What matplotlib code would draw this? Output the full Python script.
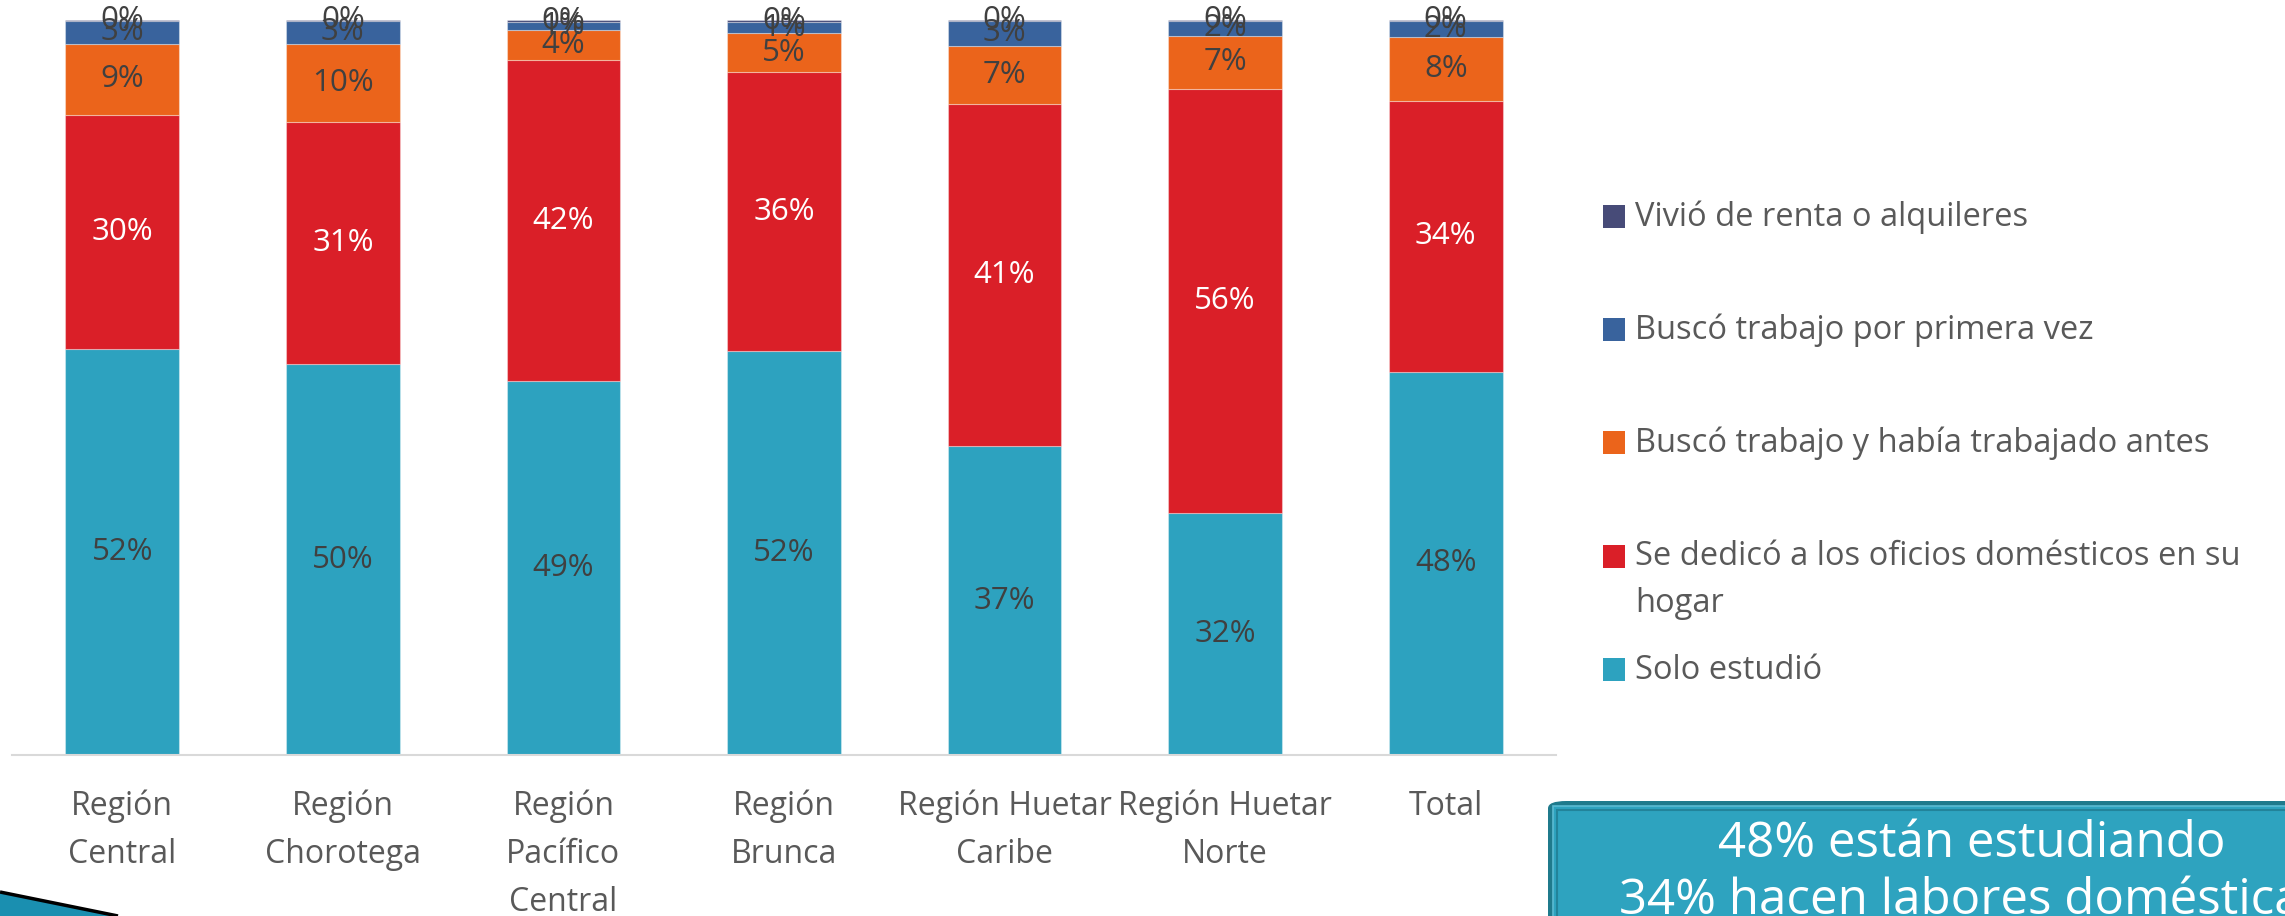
import matplotlib
matplotlib.use("Agg")
import matplotlib.pyplot as plt
from matplotlib.patches import Rectangle, FancyBboxPatch, Polygon
import numpy as np

# ---------------- data ----------------
categories = ['Región\nCentral', 'Región\nChorotega', 'Región\nPacífico\nCentral',
              'Región\nBrunca', 'Región Huetar\nCaribe', 'Región Huetar\nNorte', 'Total']
solo_estudio = [52, 50, 49, 52, 37, 32, 48]
oficios_domesticos = [30, 31, 42, 36, 41, 56, 34]
busco_trabajo_antes = [9, 10, 4, 5, 7, 7, 8]
busco_primera_vez = [3, 3, 1, 1.4, 3, 2, 2]
vivio_renta = [0.1, 0.1, 0.3, 0.3, 0.1, 0.1, 0.1]

series_names = ['Solo estudió',
                'Se dedicó a los oficios domésticos en su\nhogar',
                'Buscó trabajo y había trabajado antes',
                'Buscó trabajo por primera vez',
                'Vivió de renta o alquileres']
series_values = [solo_estudio, oficios_domesticos, busco_trabajo_antes,
                 busco_primera_vez, vivio_renta]
series_colors = ['#2DA2BF', '#DA1F28', '#EB641B', '#39639D', '#474B78']
label_colors = ['#404040', '#FFFFFF', '#404040', '#404040', '#404040']

summary_lines = ['48% están estudiando', '34% hacen labores domésticas']

# ---------------- figure ----------------
W, H = 2285, 916
plt.rcParams['font.family'] = ['Open Sans', 'DejaVu Sans']
fig = plt.figure(figsize=(W / 100, H / 100), dpi=100)
fig.patch.set_facecolor('white')

def fx(px):
    return px / W

def fy(py):
    return 1 - py / H

ax = fig.add_axes([fx(12), fy(755), fx(1556) - fx(12), fy(20) - fy(755)])

vals = np.array(series_values, dtype=float)
totals = vals.sum(axis=0)
pct = vals / totals * 100
x = np.arange(len(categories))
bottom = np.zeros(len(categories))
for i in range(len(series_names)):
    bars = ax.bar(x, pct[i], width=0.515, bottom=bottom, color=series_colors[i],
                  edgecolor=(1, 1, 1, 0.35), linewidth=0.8, zorder=2)
    ax.bar_label(bars, labels=[f'{v:.0f}%' for v in series_values[i]],
                 label_type='center', color=label_colors[i], fontsize=22.5)
    bottom += pct[i]

ax.set_xlim(-0.5, len(categories) - 0.5)
ax.set_ylim(0, 100)
ax.set_xticks(x)
ax.set_xticklabels(categories, fontsize=23, color='#595959', linespacing=1.6)
ax.tick_params(axis='x', length=0, pad=25)
ax.set_yticks([])
for s in ['left', 'right', 'top']:
    ax.spines[s].set_visible(False)
ax.spines['bottom'].set_color('#D9D9D9')
ax.spines['bottom'].set_linewidth(1.5)

# ---------------- legend (manual, reversed order) ----------------
legend_y_bottom = [228, 341, 454, 568, 681]  # square bottoms in px
legend_line_px = 46
order = list(range(len(series_names)))[::-1]
for slot, i in enumerate(order):
    yb = legend_y_bottom[slot]
    fig.patches.append(Rectangle((fx(1603), fy(yb)), fx(22), 23 / H,
                                 transform=fig.transFigure, facecolor=series_colors[i],
                                 edgecolor='none'))
    nlines = series_names[i].count('\n') + 1
    fig.text(fx(1635), fy(yb - 2 + (nlines - 1) * legend_line_px), series_names[i],
             fontsize=23.5, color='#595959', va='baseline', ha='left', linespacing=1.55)

# ---------------- summary box ----------------
outer = FancyBboxPatch((fx(1548), fy(960)), fx(2460) - fx(1548), fy(801) - fy(960),
                       boxstyle='round,pad=0,rounding_size=0.008',
                       transform=fig.transFigure, facecolor='#1F7A8C', edgecolor='none')
fig.patches.append(outer)
fig.patches.append(Rectangle((fx(1553), fy(960)), fx(2455) - fx(1553), fy(806) - fy(960),
                             transform=fig.transFigure, facecolor='#2EA3BF',
                             edgecolor='#5BBAD2', linewidth=1.2))
fig.patches.append(Rectangle((fx(1557), fy(960)), fx(2450) - fx(1557), fy(810) - fy(960),
                             transform=fig.transFigure, facecolor='#2EA3BF',
                             edgecolor='#22839A', linewidth=1.5))
fig.text(fx(1972), fy(857), summary_lines[0], fontsize=35.5, color='white',
         ha='center', va='baseline')
fig.text(fx(1972), fy(914), summary_lines[1], fontsize=35.5, color='white',
         ha='center', va='baseline')

# ---------------- decorative swoosh bottom-left ----------------
fig.patches.append(Polygon([(fx(0), fy(893)), (fx(115), fy(916)), (fx(0), fy(916))],
                           closed=True, transform=fig.transFigure,
                           facecolor='#1A8FB0', edgecolor='none'))
fig.lines.append(plt.Line2D([fx(0), fx(118)], [fy(892), fy(916)], transform=fig.transFigure,
                            color='black', linewidth=2.5, solid_capstyle='butt'))

fig.savefig('out.png', dpi=100, facecolor='white')
